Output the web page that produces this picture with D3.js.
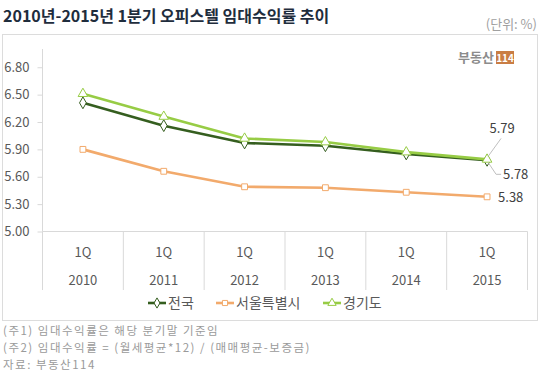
<!DOCTYPE html>
<html>
<head>
<meta charset="utf-8">
<script src="https://cdn.jsdelivr.net/npm/d3@7"></script>
<style>
  body { margin: 0; background: #fff; }
  svg text { font-family: "Noto Sans CJK KR", "Noto Sans", sans-serif; }
</style>
</head>
<body>
<div id="chart"></div>
<script>
var years = ["2010", "2011", "2012", "2013", "2014", "2015"];
var quarter = "1Q";
var seriesNames = ["전국", "서울특별시", "경기도"];
var nationwide = [6.41, 6.16, 5.97, 5.94, 5.85, 5.78];
var seoul = [5.90, 5.66, 5.49, 5.48, 5.43, 5.38];
var gyeonggi = [6.51, 6.26, 6.02, 5.98, 5.87, 5.79];
var yTicks = [5.00, 5.30, 5.60, 5.90, 6.20, 6.50, 6.80];
var notes = ["(주1) 임대수익률은 해당 분기말 기준임",
             "(주2) 임대수익률 = (월세평균*12) / (매매평균-보증금)",
             "자료: 부동산114"];

var width = 540, height = 373;
var colors = ["#355e1f", "#f2aa6c", "#97cc45"];
var shapes = [d3.symbolDiamond, d3.symbolSquare, d3.symbolTriangle];
var allSeries = [nationwide, seoul, gyeonggi];

var svg = d3.select("#chart").append("svg")
  .attr("width", width)
  .attr("height", height);

// title
svg.append("text")
  .attr("x", 3).attr("y", 22)
  .attr("font-size", 16).attr("font-weight", "bold")
  .attr("fill", "#1f2d3d")
  .text("2010년-2015년 1분기 오피스텔 임대수익률 추이");

svg.append("text")
  .attr("x", 537).attr("y", 29)
  .attr("text-anchor", "end")
  .attr("font-size", 13).attr("fill", "#a0a0a0")
  .text("(단위: %)");

// chart frame
svg.append("rect")
  .attr("x", 2.5).attr("y", 34.5)
  .attr("width", 535).attr("height", 286)
  .attr("fill", "#fff").attr("stroke", "#dcdcdc");

// logo
svg.append("text")
  .attr("x", 494).attr("y", 62)
  .attr("text-anchor", "end")
  .attr("font-size", 13).attr("font-weight", "bold")
  .attr("fill", "#8c8c8c")
  .text("부동산");
svg.append("rect")
  .attr("x", 496).attr("y", 51).attr("width", 18).attr("height", 13)
  .attr("fill", "#c97d44");
svg.append("text")
  .attr("x", 505).attr("y", 62)
  .attr("text-anchor", "middle")
  .attr("font-size", 10).attr("font-weight", "bold")
  .attr("fill", "#fff")
  .text("114");

// scales
var x = d3.scaleBand()
  .domain(years)
  .range([42.5, 527.5])
  .paddingInner(0).paddingOuter(0);

var y = d3.scaleLinear()
  .domain([5.0, 7.0])
  .range([231.5, 49]);

// y axis
var yAxis = d3.axisLeft(y)
  .tickValues(yTicks)
  .tickSize(5)
  .tickPadding(8)
  .tickFormat(d3.format(".2f"));

var gy = svg.append("g")
  .attr("transform", "translate(42.5,0)")
  .call(yAxis);
gy.select(".domain").attr("stroke", "#d9d9d9").attr("d", "M0,49V231.5");
gy.selectAll(".tick line").attr("stroke", "#d9d9d9");
gy.selectAll(".tick text")
  .attr("font-size", 13).attr("fill", "#595959")
  .attr("font-family", "\"Noto Sans\", sans-serif");

// x axis line and category dividers
svg.append("line")
  .attr("x1", 42.5).attr("x2", 527.5)
  .attr("y1", 231.5).attr("y2", 231.5)
  .attr("stroke", "#d9d9d9");

var bounds = years.map(d => x(d)).concat([x(years[years.length - 1]) + x.bandwidth()]);
svg.append("g").selectAll("line")
  .data(bounds)
  .enter().append("line")
  .attr("x1", d => d).attr("x2", d => d)
  .attr("y1", 231.5).attr("y2", 290)
  .attr("stroke", "#d9d9d9");

var xl = svg.append("g").selectAll("g")
  .data(years)
  .enter().append("g")
  .attr("transform", d => "translate(" + (x(d) + x.bandwidth() / 2) + ",0)");
xl.append("text")
  .attr("y", 257).attr("text-anchor", "middle")
  .attr("font-size", 13).attr("fill", "#595959")
  .attr("font-family", "\"Noto Sans\", sans-serif")
  .text(quarter);
xl.append("text")
  .attr("y", 285).attr("text-anchor", "middle")
  .attr("font-size", 13).attr("fill", "#595959")
  .attr("font-family", "\"Noto Sans\", sans-serif")
  .text(d => d);

// lines
var line = d3.line()
  .x((d, i) => x(years[i]) + x.bandwidth() / 2)
  .y(d => y(d));

allSeries.forEach(function(vals, s) {
  svg.append("path")
    .attr("d", line(vals))
    .attr("fill", "none")
    .attr("stroke", colors[s])
    .attr("stroke-width", 2.6)
    .attr("stroke-linejoin", "round");
});

allSeries.forEach(function(vals, s) {
  svg.append("g").selectAll("path")
    .data(vals)
    .enter().append("path")
    .attr("transform", (d, i) => "translate(" + (x(years[i]) + x.bandwidth() / 2) + "," + y(d) + ")")
    .attr("d", d3.symbol().type(shapes[s]).size(s == 1 ? 34 : 40))
    .attr("fill", "#fff")
    .attr("stroke", colors[s])
    .attr("stroke-width", 1);
});

// data labels for last point
var lastX = x(years[5]) + x.bandwidth() / 2;
svg.append("path")
  .attr("d", "M" + (lastX + 1) + "," + (y(gyeonggi[5]) - 3) + "L" + (lastX + 14) + "," + (y(gyeonggi[5]) - 21))
  .attr("stroke", "#bfbfbf").attr("fill", "none");
svg.append("text")
  .attr("x", lastX + 15).attr("y", y(gyeonggi[5]) - 26)
  .attr("text-anchor", "middle")
  .attr("font-size", 13).attr("fill", "#404040")
  .attr("font-family", "\"Noto Sans\", sans-serif")
  .text(gyeonggi[5].toFixed(2));

svg.append("path")
  .attr("d", "M" + (lastX + 1) + "," + (y(nationwide[5]) + 2) + "L" + (lastX + 9) + "," + (y(nationwide[5]) + 14) + "L" + (lastX + 14) + "," + (y(nationwide[5]) + 14))
  .attr("stroke", "#bfbfbf").attr("fill", "none");
svg.append("text")
  .attr("x", lastX + 16).attr("y", y(nationwide[5]) + 19)
  .attr("font-size", 13).attr("fill", "#404040")
  .attr("font-family", "\"Noto Sans\", sans-serif")
  .text(nationwide[5].toFixed(2));

svg.append("text")
  .attr("x", lastX + 11).attr("y", y(seoul[5]) + 5)
  .attr("font-size", 13).attr("fill", "#404040")
  .attr("font-family", "\"Noto Sans\", sans-serif")
  .text(seoul[5].toFixed(2));

// legend
var legendX = [148, 216, 323];
var lg = svg.append("g").selectAll("g")
  .data(seriesNames)
  .enter().append("g")
  .attr("transform", (d, i) => "translate(" + legendX[i] + ",303)");
lg.append("line")
  .attr("x1", 0).attr("x2", 18)
  .attr("stroke", (d, i) => colors[i])
  .attr("stroke-width", 2.6);
lg.append("path")
  .attr("transform", "translate(9,0)")
  .attr("d", (d, i) => d3.symbol().type(shapes[i]).size(i == 1 ? 26 : 30)())
  .attr("fill", "#fff")
  .attr("stroke", (d, i) => colors[i]);
lg.append("text")
  .attr("x", 20).attr("y", 5)
  .attr("font-size", 14).attr("fill", "#595959")
  .text(d => d);

// footnotes
svg.append("g").selectAll("text")
  .data(notes)
  .enter().append("text")
  .attr("x", 3)
  .attr("y", (d, i) => 335 + i * 16.8)
  .attr("font-size", 11.5).attr("letter-spacing", 1.5)
  .attr("fill", "#9a9a9a")
  .text(d => d);
</script>
</body>
</html>
